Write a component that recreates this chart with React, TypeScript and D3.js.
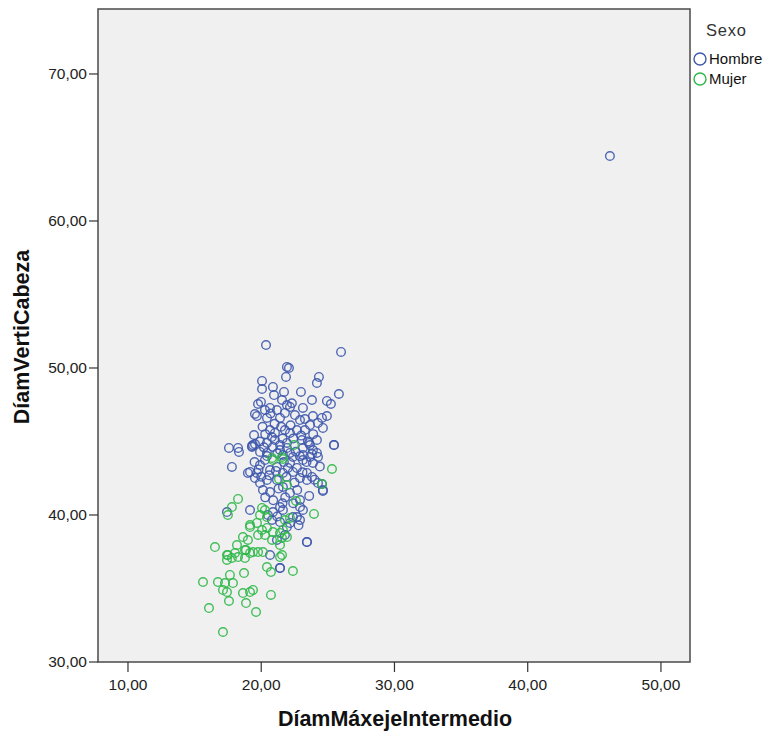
import React from 'react';
import * as d3 from 'd3';

// DíamMáxejeIntermedio (x), DíamVertiCabeza (y)
const hombreX = [
  46.17, 20.36, 25.99, 21.93, 22.08, 24.33, 24.18, 20.06, 20.06, 20.88, 20.96, 21.86, 21.71, 22.98, 25.83,
  23.81, 24.93, 25.23, 19.98, 19.76, 21.56, 21.93, 20.66, 20.28, 19.53, 19.68, 21.18, 22.16, 23.13, 22.53,
  20.43, 21.41, 21.78, 22.91, 23.28, 23.88, 24.56, 24.93, 24.26, 23.66, 24.63, 20.66, 21.03, 21.78, 22.16,
  22.68, 23.28, 19.46, 19.38, 19.31, 17.58, 18.26, 18.33, 20.43, 21.03, 21.41, 21.93, 23.06, 23.58, 24.18,
  25.46, 20.43, 22.38, 23.13, 23.81, 24.26, 17.8, 19.31, 19.53, 19.16, 19.68, 19.91, 20.28, 20.66, 21.18,
  22.16, 22.68, 23.13, 23.66, 24.18, 23.88, 23.43, 22.91, 22.38, 21.63, 21.18, 20.43, 19.91, 19.53, 19.0,
  20.13, 20.66, 21.63, 22.16, 22.91, 23.43, 23.81, 24.26, 24.63, 22.91, 23.13, 22.68, 22.91, 21.41, 21.63,
  20.88, 20.81, 21.41, 21.93, 22.16, 22.38, 19.16, 17.43, 23.43, 20.66, 21.41, 20.88, 21.41, 21.93, 22.16,
  21.63, 20.43, 19.91, 23.13, 23.66, 23.88, 21.18, 21.78, 21.0, 21.5, 22.2, 20.1, 20.8, 21.6, 22.4, 23.0,
  19.9, 20.3, 21.2, 22.6, 23.4, 20.6, 21.9, 22.5, 21.3, 20.3, 21.8, 22.4, 23.6, 24.0, 20.9, 21.6, 22.0,
  23.1, 24.4, 19.5, 20.5, 22.8, 24.56, 24.63, 25.46, 23.43, 21.41, 20.2, 21.7, 22.9, 20.7, 22.3, 23.5,
  21.1, 19.8, 22.7, 21.2, 23.9, 20.0
];
const hombreY = [
  64.42, 51.56, 51.09, 50.07, 50.0, 49.39, 48.98, 49.12, 48.57, 48.71, 48.16, 49.39, 48.37, 48.37, 48.23,
  47.82, 47.76, 47.55, 47.69, 47.55, 47.82, 47.48, 47.28, 47.14, 46.87, 46.73, 47.14, 47.35, 47.28, 46.8,
  46.6, 46.6, 46.94, 46.46, 46.53, 46.73, 46.6, 46.73, 46.26, 46.12, 45.92, 45.78, 45.58, 45.78, 45.58,
  45.78, 45.78, 45.44, 44.76, 44.63, 44.56, 44.56, 44.29, 44.9, 45.1, 44.76, 44.56, 45.1, 44.9, 45.1,
  44.76, 44.01, 43.95, 44.08, 44.15, 43.95, 43.27, 44.7, 44.83, 42.93, 42.86, 43.4, 43.74, 43.06, 43.27,
  43.54, 43.2, 43.74, 43.95, 44.22, 43.54, 42.86, 42.52, 42.93, 42.86, 42.38, 42.38, 42.18, 42.52, 42.86,
  41.7, 41.56, 41.9, 41.5, 41.02, 42.38, 42.59, 42.18, 41.63, 40.54, 40.34, 39.86, 39.66, 40.54, 40.34,
  40.2, 39.66, 39.52, 39.18, 39.46, 39.86, 40.34, 40.2, 38.16, 37.28, 36.39, 44.63, 44.42, 44.9, 44.22,
  44.08, 44.22, 44.29, 44.56, 44.76, 44.42, 38.3, 38.64, 46.2, 46.0, 46.1, 46.0, 45.3, 45.2, 45.2, 45.4,
  45.0, 45.5, 44.2, 44.3, 43.6, 42.7, 42.6, 42.2, 41.8, 41.2, 41.2, 40.8, 41.3, 42.4, 41.0, 40.8, 43.2,
  42.9, 43.3, 43.6, 40.0, 39.3, 42.11, 41.7, 44.76, 38.16, 36.39, 44.6, 43.6, 44.0, 46.9, 47.6, 45.0,
  43.0, 43.1, 41.7, 39.9, 45.5, 42.6
];

const mujerX = [
  22.46, 20.81, 21.56, 20.88, 21.63, 25.31, 21.33, 21.93, 24.56, 18.26, 17.8, 17.5, 20.06, 20.28, 19.91,
  20.43, 22.61, 23.96, 21.78, 22.16, 19.16, 19.68, 20.06, 20.43, 20.88, 21.41, 18.63, 19.0, 19.76, 20.81,
  21.56, 21.93, 21.41, 16.53, 17.43, 18.03, 18.78, 19.16, 19.76, 21.56, 17.5, 17.43, 17.8, 18.18, 18.26,
  18.86, 18.78, 19.38, 20.13, 19.16, 20.28, 21.63, 21.41, 20.43, 20.73, 22.38, 15.63, 16.75, 17.28, 17.65,
  17.88, 17.13, 17.43, 17.58, 18.71, 18.63, 19.16, 19.38, 18.86, 19.61, 20.73, 16.08, 17.13
];
const mujerY = [
  44.76, 43.88, 43.95, 43.74, 43.81, 43.13, 42.45, 42.04, 42.11, 41.09, 40.54, 40.0, 40.48, 40.34, 40.0,
  39.86, 40.95, 40.07, 39.66, 39.8, 39.32, 39.46, 38.98, 39.12, 38.84, 38.78, 38.5, 38.3, 38.64, 38.3,
  38.44, 38.5, 37.96, 37.82, 37.28, 37.41, 37.62, 37.41, 37.48, 37.28, 37.28, 36.94, 37.07, 37.96, 37.14,
  37.62, 37.07, 37.48, 37.48, 39.18, 38.64, 38.98, 37.14, 36.46, 36.12, 36.19, 35.44, 35.44, 35.37, 35.92,
  35.37, 34.9, 34.76, 34.15, 36.05, 34.69, 34.76, 34.9, 34.01, 33.4, 34.56, 33.67, 32.04
];

const xTicks = [10, 20, 30, 40, 50];
const yTicks = [30, 40, 50, 60, 70];
const sexos = ['Hombre', 'Mujer'];
const colores = ['#3e58ac', '#2eb848'];

const W = 769;
const H = 733;
const plot = { left: 98, right: 690, top: 9, bottom: 662 };

const App = () => {
  const x = d3.scaleLinear().domain([7.75, 52.18]).range([plot.left, plot.right]);
  const y = d3.scaleLinear().domain([30, 74.42]).range([plot.bottom, plot.top]);
  const fmt = (v: number) => d3.format('.2f')(v).replace('.', ',');

  const series = [
    { name: sexos[0], color: colores[0], xs: hombreX, ys: hombreY },
    { name: sexos[1], color: colores[1], xs: mujerX, ys: mujerY },
  ];

  const font = '"Liberation Sans", Arial, sans-serif';

  return (
    <div style={{ position: 'fixed', left: 0, top: 0 }}>
      <svg width={W} height={H} style={{ display: 'block', background: '#fff' }} fontFamily={font}>
        <rect
          x={plot.left}
          y={plot.top}
          width={plot.right - plot.left}
          height={plot.bottom - plot.top}
          fill="#f0f0f0"
          stroke="#4a4a4a"
          strokeWidth={1.5}
        />

        {/* y axis ticks */}
        {yTicks.map(t => (
          <g key={'y' + t}>
            <line x1={plot.left - 9} x2={plot.left} y1={y(t)} y2={y(t)} stroke="#333" strokeWidth={1.2} />
            <text x={plot.left - 11} y={y(t)} dy="0.35em" textAnchor="end" fontSize={15.5} fill="#222">
              {fmt(t)}
            </text>
          </g>
        ))}

        {/* x axis ticks */}
        {xTicks.map(t => (
          <g key={'x' + t}>
            <line x1={x(t)} x2={x(t)} y1={plot.bottom} y2={plot.bottom + 10} stroke="#333" strokeWidth={1.2} />
            <text x={x(t)} y={plot.bottom + 28} textAnchor="middle" fontSize={15.5} fill="#222">
              {fmt(t)}
            </text>
          </g>
        ))}

        {/* points */}
        {series.map(s => (
          <g key={s.name}>
            {s.xs.map((v, i) => (
              <circle
                key={i}
                cx={x(v)}
                cy={y(s.ys[i])}
                r={4.3}
                fill="none"
                stroke={s.color}
                strokeWidth={1.4}
                strokeOpacity={0.9}
              />
            ))}
          </g>
        ))}

        {/* axis titles */}
        <text x={395} y={726} textAnchor="middle" fontSize={21.5} fontWeight="bold" fill="#111">
          DíamMáxejeIntermedio
        </text>
        <text
          transform={`translate(29, 337) rotate(-90)`}
          textAnchor="middle"
          fontSize={21.5}
          fontWeight="bold"
          fill="#111"
        >
          DíamVertiCabeza
        </text>

        {/* legend */}
        <text x={706} y={36} fontSize={16.5} fill="#333" letterSpacing={0.8}>Sexo</text>
        {series.map((s, i) => (
          <g key={'lg' + s.name} transform={`translate(700, ${59 + i * 20})`}>
            <circle r={6} fill="none" stroke={s.color} strokeWidth={1.4} />
            <text x={9} y={0} dy="0.35em" fontSize={15} fill="#111">{s.name}</text>
          </g>
        ))}
      </svg>
    </div>
  );
};

export default App;
